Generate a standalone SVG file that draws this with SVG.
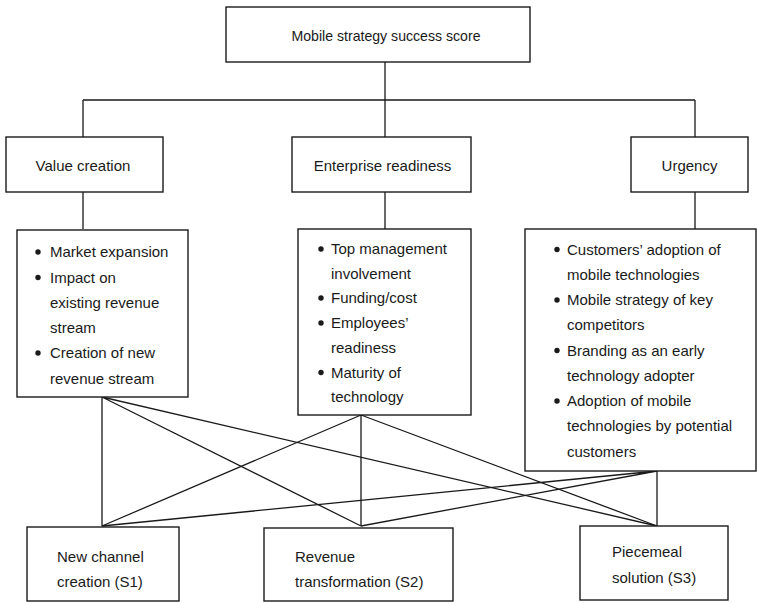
<svg xmlns="http://www.w3.org/2000/svg" width="757" height="603" viewBox="0 0 757 603">
  <style>
    .box { fill: #ffffff; stroke: #1a1a1a; stroke-width: 1.4; }
    .link { fill: none; stroke: #1a1a1a; stroke-width: 1.3; }
    text { font-family: "Liberation Sans", Arial, sans-serif; font-size: 15px; fill: #1a1a1a; }
    .mid { text-anchor: middle; }
    .dot { fill: #1a1a1a; }
  </style>
  <defs>
    <circle id="bullet" r="2.7" class="dot"/>
  </defs>

  <rect width="757" height="603" fill="#ffffff"/>

  <!-- connectors -->
  <g id="connectors" class="link">
    <!-- hierarchy from the score down to the three criteria -->
    <path d="M385 62 V100 M83 100 H695 M83 100 V137 M385 100 V137 M695 100 V137"/>
    <!-- criteria to their factor lists -->
    <path d="M83 192 V229 M385 192 V229 M695 192 V229"/>
    <!-- every factor list feeds every strategy -->
    <path d="M102 397 L102 526 M102 397 L361 526 M102 397 L657 526"/>
    <path d="M361 415 L102 526 M361 415 L361 526 M361 415 L657 526"/>
    <path d="M657 471 L102 526 M657 471 L361 526 M657 471 L657 526"/>
  </g>

  <!-- root -->
  <g id="score">
    <rect class="box" x="226" y="7" width="304" height="55"/>
    <text class="mid" x="386" y="41" textLength="189" lengthAdjust="spacingAndGlyphs">Mobile strategy success score</text>
  </g>

  <!-- criteria -->
  <g id="value-creation">
    <rect class="box" x="6" y="137" width="157" height="55"/>
    <text class="mid" x="83" y="170.5">Value creation</text>
  </g>
  <g id="enterprise-readiness">
    <rect class="box" x="292" y="137" width="179" height="55"/>
    <text class="mid" x="382.5" y="170.5">Enterprise readiness</text>
  </g>
  <g id="urgency">
    <rect class="box" x="631" y="137" width="117" height="55"/>
    <text class="mid" x="689.5" y="170.5">Urgency</text>
  </g>

  <!-- factor lists -->
  <g id="value-factors">
    <rect class="box" x="17" y="230" width="171" height="167"/>
    <use href="#bullet" x="38" y="252"/>
    <use href="#bullet" x="38" y="277.5"/>
    <use href="#bullet" x="38" y="353"/>
    <text x="50" y="257.3">
      <tspan x="50" y="257.3">Market expansion</tspan>
      <tspan x="50" y="282.5">Impact on</tspan>
      <tspan x="50" y="307.8">existing revenue</tspan>
      <tspan x="50" y="333">stream</tspan>
      <tspan x="50" y="358.3">Creation of new</tspan>
      <tspan x="50" y="383.5">revenue stream</tspan>
    </text>
  </g>

  <g id="readiness-factors">
    <rect class="box" x="298" y="229" width="173" height="186"/>
    <use href="#bullet" x="321" y="249"/>
    <use href="#bullet" x="321" y="298"/>
    <use href="#bullet" x="321" y="323"/>
    <use href="#bullet" x="321" y="372.5"/>
    <text x="331" y="254">
      <tspan x="331" y="254">Top management</tspan>
      <tspan x="331" y="278.5">involvement</tspan>
      <tspan x="331" y="303.3">Funding/cost</tspan>
      <tspan x="331" y="328">Employees’</tspan>
      <tspan x="331" y="352.8">readiness</tspan>
      <tspan x="331" y="377.5">Maturity of</tspan>
      <tspan x="331" y="402.3">technology</tspan>
    </text>
  </g>

  <g id="urgency-factors">
    <rect class="box" x="525" y="229" width="231" height="242"/>
    <use href="#bullet" x="557" y="249.5"/>
    <use href="#bullet" x="557" y="300"/>
    <use href="#bullet" x="557" y="350.5"/>
    <use href="#bullet" x="557" y="401"/>
    <text x="567" y="254.5">
      <tspan x="567" y="254.5">Customers’ adoption of</tspan>
      <tspan x="567" y="279.7">mobile technologies</tspan>
      <tspan x="567" y="305">Mobile strategy of key</tspan>
      <tspan x="567" y="330.2">competitors</tspan>
      <tspan x="567" y="355.5">Branding as an early</tspan>
      <tspan x="567" y="380.7">technology adopter</tspan>
      <tspan x="567" y="406">Adoption of mobile</tspan>
      <tspan x="567" y="431.2">technologies by potential</tspan>
      <tspan x="567" y="456.5">customers</tspan>
    </text>
  </g>

  <!-- strategies -->
  <g id="s1">
    <rect class="box" x="27" y="527" width="152" height="74"/>
    <text x="57" y="562">
      <tspan x="57" y="562">New channel</tspan>
      <tspan x="57" y="587">creation (S1)</tspan>
    </text>
  </g>
  <g id="s2">
    <rect class="box" x="264" y="528" width="189" height="73"/>
    <text x="295" y="562">
      <tspan x="295" y="562">Revenue</tspan>
      <tspan x="295" y="587">transformation (S2)</tspan>
    </text>
  </g>
  <g id="s3">
    <rect class="box" x="580" y="526" width="148" height="74"/>
    <text x="612" y="557">
      <tspan x="612" y="557">Piecemeal</tspan>
      <tspan x="612" y="583">solution (S3)</tspan>
    </text>
  </g>
</svg>
